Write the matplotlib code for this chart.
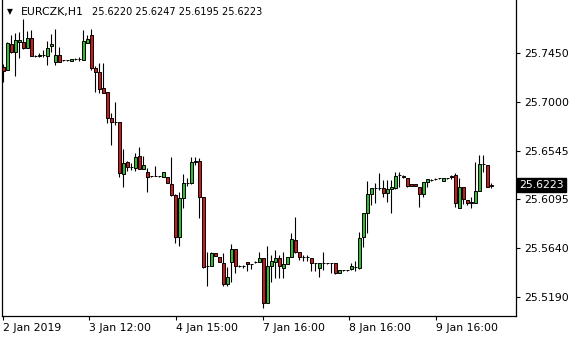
import numpy as np
import matplotlib
matplotlib.use("Agg")
import matplotlib.pyplot as plt

# EURCZK H1 candles (open, high, low, close)
opens = [25.7321, 25.7293, 25.7534, 25.7460, 25.7552, 25.7552, 25.7497, 25.7590, 25.7423, 25.7423,
         25.7432, 25.7423, 25.7515, 25.7367, 25.7432, 25.7386, 25.7386, 25.7376, 25.7395, 25.7395,
         25.7386, 25.7543, 25.7617, 25.7311, 25.7274, 25.7126, 25.7089, 25.6848, 25.6811, 25.6811,
         25.6328, 25.6440, 25.6393, 25.6384, 25.6495, 25.6375, 25.6347, 25.6310, 25.6310, 25.6310,
         25.6301, 25.6301, 25.6236, 25.6134, 25.5744, 25.6106, 25.6245, 25.6245, 25.6440, 25.6449,
         25.6115, 25.5475, 25.5475, 25.5596, 25.5559, 25.5503, 25.5308, 25.5512, 25.5633, 25.5475,
         25.5475, 25.5512, 25.5494, 25.5512, 25.5512, 25.5549, 25.5132, 25.5475, 25.5512, 25.5549,
         25.5457, 25.5494, 25.5559, 25.5716, 25.5605, 25.5559, 25.5559, 25.5549, 25.5503, 25.5457,
         25.5503, 25.5503, 25.5503, 25.5503, 25.5410, 25.5438, 25.5438, 25.5447, 25.5466, 25.5457,
         25.5744, 25.5967, 25.6143, 25.6198, 25.6198, 25.6198, 25.6152, 25.6189, 25.6198, 25.6319,
         25.6310, 25.6291, 25.6236, 25.6236, 25.6208, 25.6143, 25.6254, 25.6273, 25.6282, 25.6291,
         25.6263, 25.6291, 25.6301, 25.6319, 25.6013, 25.6208, 25.6087, 25.6069, 25.6059, 25.6171,
         25.6421, 25.6412, 25.6220]
highs = [25.7348, 25.7552, 25.7617, 25.7636, 25.7645, 25.7766, 25.7655, 25.7664, 25.7432, 25.7450,
         25.7478, 25.7562, 25.7627, 25.7673, 25.7506, 25.7386, 25.7386, 25.7395, 25.7404, 25.7413,
         25.7664, 25.7617, 25.7673, 25.7330, 25.7358, 25.7358, 25.7089, 25.6894, 25.6996, 25.6811,
         25.6560, 25.6449, 25.6430, 25.6523, 25.6579, 25.6495, 25.6384, 25.6310, 25.6403, 25.6310,
         25.6347, 25.6301, 25.6486, 25.6143, 25.6161, 25.6328, 25.6291, 25.6486, 25.6486, 25.6477,
         25.6115, 25.5605, 25.5605, 25.5596, 25.5559, 25.5596, 25.5466, 25.5679, 25.5633, 25.5484,
         25.5484, 25.5512, 25.5494, 25.5521, 25.5605, 25.5549, 25.5661, 25.5577, 25.5623, 25.5577,
         25.5605, 25.5559, 25.5781, 25.5930, 25.5605, 25.5577, 25.5577, 25.5549, 25.5503, 25.5503,
         25.5605, 25.5503, 25.5503, 25.5503, 25.5438, 25.5438, 25.5438, 25.5503, 25.5521, 25.5790,
         25.5967, 25.6263, 25.6198, 25.6245, 25.6338, 25.6273, 25.6273, 25.6273, 25.6347, 25.6347,
         25.6319, 25.6291, 25.6236, 25.6236, 25.6208, 25.6254, 25.6282, 25.6282, 25.6291, 25.6291,
         25.6291, 25.6291, 25.6319, 25.6338, 25.6291, 25.6208, 25.6087, 25.6115, 25.6440, 25.6505,
         25.6505, 25.6412, 25.6247]
lows = [25.7182, 25.7293, 25.7450, 25.7237, 25.7404, 25.7488, 25.7497, 25.7423, 25.7413, 25.7413,
        25.7413, 25.7339, 25.7460, 25.7339, 25.7367, 25.7376, 25.7376, 25.7376, 25.7386, 25.7376,
        25.7386, 25.7543, 25.7293, 25.7089, 25.7080, 25.7080, 25.6801, 25.6597, 25.6783, 25.6301,
        25.6208, 25.6356, 25.6365, 25.6356, 25.6375, 25.6375, 25.6161, 25.6301, 25.6310, 25.6301,
        25.6301, 25.6245, 25.6124, 25.5688, 25.5661, 25.6013, 25.6217, 25.6236, 25.6412, 25.5920,
        25.5457, 25.5290, 25.5475, 25.5568, 25.5512, 25.5290, 25.5290, 25.5327, 25.5410, 25.5466,
        25.5457, 25.5429, 25.5447, 25.5503, 25.5512, 25.5086, 25.5132, 25.5327, 25.5364, 25.5364,
        25.5364, 25.5494, 25.5559, 25.5596, 25.5531, 25.5521, 25.5521, 25.5429, 25.5429, 25.5373,
        25.5438, 25.5494, 25.5410, 25.5401, 25.5410, 25.5429, 25.5429, 25.5438, 25.5429, 25.5447,
        25.5651, 25.5781, 25.6041, 25.6059, 25.6180, 25.6115, 25.6069, 25.5967, 25.6189, 25.6208,
        25.6291, 25.6208, 25.6217, 25.6217, 25.6022, 25.6115, 25.6208, 25.6263, 25.6273, 25.6282,
        25.6263, 25.6282, 25.6282, 25.6022, 25.6013, 25.6050, 25.6041, 25.6013, 25.6059, 25.6171,
        25.6347, 25.6208, 25.6195]
closes = [25.7284, 25.7543, 25.7460, 25.7571, 25.7571, 25.7497, 25.7590, 25.7423, 25.7423, 25.7432,
          25.7432, 25.7497, 25.7534, 25.7432, 25.7367, 25.7386, 25.7386, 25.7395, 25.7395, 25.7395,
          25.7562, 25.7580, 25.7311, 25.7274, 25.7117, 25.7080, 25.6848, 25.6811, 25.6811, 25.6338,
          25.6430, 25.6393, 25.6393, 25.6486, 25.6375, 25.6412, 25.6301, 25.6310, 25.6310, 25.6310,
          25.6347, 25.6245, 25.6134, 25.5744, 25.6106, 25.6245, 25.6245, 25.6440, 25.6449, 25.6115,
          25.5466, 25.5475, 25.5596, 25.5568, 25.5512, 25.5308, 25.5373, 25.5633, 25.5475, 25.5475,
          25.5475, 25.5494, 25.5494, 25.5512, 25.5549, 25.5132, 25.5475, 25.5521, 25.5549, 25.5475,
          25.5494, 25.5559, 25.5725, 25.5605, 25.5559, 25.5559, 25.5559, 25.5503, 25.5503, 25.5503,
          25.5503, 25.5503, 25.5503, 25.5410, 25.5438, 25.5438, 25.5438, 25.5475, 25.5466, 25.5735,
          25.5967, 25.6143, 25.6198, 25.6198, 25.6198, 25.6152, 25.6189, 25.6208, 25.6310, 25.6319,
          25.6301, 25.6217, 25.6217, 25.6217, 25.6143, 25.6254, 25.6282, 25.6273, 25.6282, 25.6291,
          25.6291, 25.6291, 25.6310, 25.6059, 25.6208, 25.6096, 25.6059, 25.6059, 25.6171, 25.6421,
          25.6421, 25.6208, 25.6223]

price_ticks = [25.7450, 25.7000, 25.6545, 25.6095, 25.5640, 25.5190]
time_labels = ["2 Jan 2019", "3 Jan 12:00", "4 Jan 15:00", "7 Jan 16:00", "8 Jan 16:00", "9 Jan 16:00"]
bars_per_label = 21.66

o = np.array(opens)
h = np.array(highs)
l = np.array(lows)
c = np.array(closes)
x = np.arange(len(o))

up = '#2ebd2e'
down = '#d01818'
cols = np.where(c > o, up, np.where(c < o, down, 'black'))

fig = plt.figure(figsize=(5.8, 3.4), dpi=100)
ax = fig.add_axes([2 / 580, 24 / 340, 514 / 580, 316 / 340])

# wicks, then bodies on top
ax.vlines(x, l, h, color='black', lw=0.8, zorder=2)
ax.bar(x, np.abs(c - o), bottom=np.minimum(o, c), width=0.75,
       color=cols, edgecolor='black', linewidth=0.7, zorder=3)

ax.set_xlim(-0.25, 128.25)
ax.set_ylim(25.5011, 25.7942)

ax.spines['top'].set_visible(False)
for s in ['left', 'right', 'bottom']:
    ax.spines[s].set_linewidth(0.9)

ax.yaxis.tick_right()
ax.set_yticks(price_ticks)
ax.set_yticklabels(['%.4f' % p for p in price_ticks])
ax.tick_params(axis='y', length=3, width=0.8, pad=3, labelsize=7.8)

ax.set_xticks(np.arange(len(time_labels)) * bars_per_label - 0.1)
ax.set_xticklabels(time_labels)
for t in ax.get_xticklabels():
    t.set_horizontalalignment('left')
ax.tick_params(axis='x', length=3, width=0.8, pad=2, labelsize=7.8)

# last price tag
ax.text(1.006, c[-1], '%.4f' % c[-1], transform=ax.get_yaxis_transform(),
        va='center', ha='left', color='white', fontsize=7.8,
        bbox=dict(facecolor='black', edgecolor='black', boxstyle='square,pad=0.2'))

# header
fig.text(7 / 580, 1 - 12 / 340, '▼', fontsize=5.5, va='center')
fig.text(21 / 580, 1 - 12 / 340, 'EURCZK,H1', fontsize=7.8, va='center')
fig.text(92 / 580, 1 - 12 / 340,
         '%.4f %.4f %.4f %.4f' % (o[-1], h[-1], l[-1], c[-1]),
         fontsize=7.0, va='center')

fig.savefig('out.png', dpi=100)
